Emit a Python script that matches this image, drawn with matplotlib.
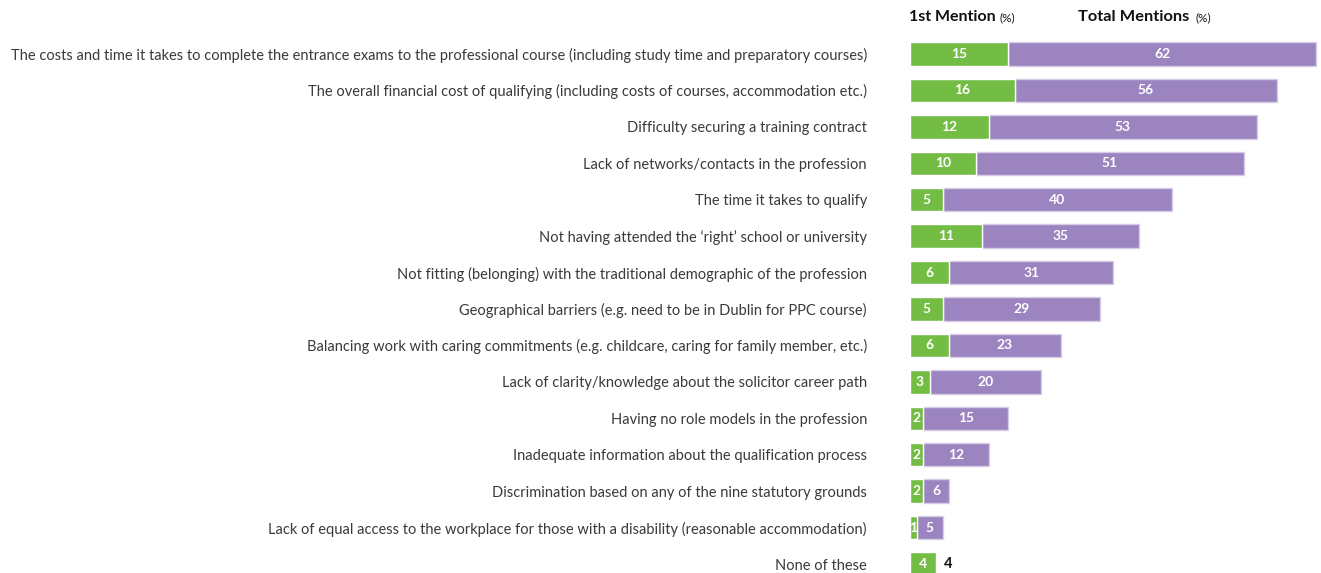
import matplotlib.pyplot as plt
import numpy as np

categories = [
    "The costs and time it takes to complete the entrance exams to the professional course (including study time and preparatory courses)",
    "The overall financial cost of qualifying (including costs of courses, accommodation etc.)",
    "Difficulty securing a training contract",
    "Lack of networks/contacts in the profession",
    "The time it takes to qualify",
    "Not having attended the \u2018right\u2019 school or university",
    "Not fitting (belonging) with the traditional demographic of the profession",
    "Geographical barriers (e.g. need to be in Dublin for PPC course)",
    "Balancing work with caring commitments (e.g. childcare, caring for family member, etc.)",
    "Lack of clarity/knowledge about the solicitor career path",
    "Having no role models in the profession",
    "Inadequate information about the qualification process",
    "Discrimination based on any of the nine statutory grounds",
    "Lack of equal access to the workplace for those with a disability (reasonable accommodation)",
    "None of these",
]
first_mention = [15, 16, 12, 10, 5, 11, 6, 5, 6, 3, 2, 2, 2, 1, 4]
total_mentions = [62, 56, 53, 51, 40, 35, 31, 29, 23, 20, 15, 12, 6, 5, 4]

GREEN = "#74bd45"
PURPLE = "#9b84c0"

W, H = 1321, 573
fig = plt.figure(figsize=(W / 100, H / 100), dpi=100)
plt.rcParams["font.family"] = ["Lato", "DejaVu Sans"]

left_px, scale = 910, 6.55
xmax = (1317.5 - left_px) / scale
ax = fig.add_axes([left_px / W, 0, (xmax * scale) / W, 537 / H])

y = np.arange(len(categories))
first = np.array(first_mention)
total = np.array(total_mentions)
h = 0.64

ax.barh(y, total - first, left=first, height=h, color=PURPLE,
        edgecolor="#d6cce6", linewidth=1.0)
ax.barh(y, first, height=h, color=GREEN, edgecolor="white", linewidth=1.0)

for yi, f, t in zip(y, first, total):
    ax.text(f / 2, yi, str(f), ha="center", va="center", color="white",
            fontsize=10, fontweight="bold")
    if t > f:
        ax.text((f + t) / 2, yi, str(t), ha="center", va="center",
                color="white", fontsize=10, fontweight="bold")
    else:
        ax.text(t + 1.1, yi, str(t), ha="left", va="center",
                color="#111111", fontsize=10.5, fontweight="bold")

ax.set_xlim(0, xmax)
ax.set_ylim(14 + 9 / 36.43, -18 / 36.43)
ax.set_yticks(y)
ax.set_yticklabels(categories, fontsize=10.5, color="#3a3a3a")
ax.tick_params(axis="y", length=0, pad=31)
ax.set_xticks([])
for s in ax.spines.values():
    s.set_visible(False)

# column headers
fig.text(909 / W, 1 - 17 / H, "1st Mention", fontsize=11.5, fontweight="bold",
         color="#111111", va="center", ha="left")
fig.text(1000 / W, 1 - 18 / H, "(%)", fontsize=8.5, color="#111111",
         va="center", ha="left")
fig.text(1078 / W, 1 - 17 / H, "Total Mentions", fontsize=11.8,
         fontweight="bold", color="#111111", va="center", ha="left")
fig.text(1195 / W, 1 - 18 / H, "(%)", fontsize=8.5, color="#111111",
         va="center", ha="left")

fig.savefig("out.png", dpi=100)
